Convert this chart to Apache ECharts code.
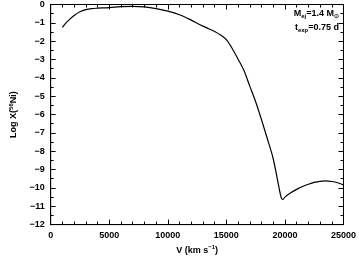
<!DOCTYPE html>
<html><head><meta charset="utf-8">
<script src="https://cdn.jsdelivr.net/npm/echarts@6/dist/echarts.min.js"></script>
<style>html,body{margin:0;padding:0;background:#fff}#c{width:359px;height:260px}</style>
</head><body><div id="c"></div>
<script>
const velocity = [1000,1200,1500,2000,2500,3000,3500,4000,5000,6000,7000,8000,9000,10000,11000,12000,12500,13000,13500,14000,14500,15000,15500,16000,16500,17000,17500,18000,18500,19000,19500,19700,19820,20000,20500,21000,21500,22000,22500,23000,23500,24000,24500,25000];
const logX = [-1.25,-1.08,-0.88,-0.6,-0.4,-0.28,-0.22,-0.2,-0.17,-0.12,-0.1,-0.13,-0.22,-0.36,-0.56,-0.85,-1.02,-1.18,-1.32,-1.47,-1.66,-1.92,-2.4,-2.98,-3.6,-4.45,-5.3,-6.28,-7.32,-8.41,-10.0,-10.56,-10.63,-10.5,-10.27,-10.08,-9.92,-9.8,-9.7,-9.64,-9.62,-9.65,-9.72,-9.84];
const xTicks = [0,5000,10000,15000,20000,25000];
const yTicks = [0,-1,-2,-3,-4,-5,-6,-7,-8,-9,-10,-11,-12];

const font = 'Liberation Sans, Arial, sans-serif';
const chart = echarts.init(document.getElementById('c'), null, {renderer:'canvas'});
const fmtY = v => String(v).replace('-', '\u2212');
const fmtX = v => String(v);
function ax(extra, split){
  return Object.assign({
    axisLine:{show:true,onZero:false,lineStyle:{color:'#000',width:1}},
    axisTick:{show:true,inside:true,length:5,lineStyle:{color:'#000',width:1}},
    minorTick:{show:true,splitNumber:split,length:3,lineStyle:{color:'#000',width:1}},
    splitLine:{show:false}
  }, extra);
}
const lbl = {color:'#000',fontFamily:font,fontSize:9,fontWeight:'bold',margin:6};
chart.setOption({
  animation:false,
  grid:{left:38,right:14,top:4,bottom:30,show:true,borderColor:'#000',borderWidth:1},
  xAxis:[
    ax({type:'value',min:xTicks[0],max:xTicks[xTicks.length-1],interval:5000,
      axisLabel:Object.assign({},lbl,{formatter:fmtX}),
      name:'V (km s{sup|\u22121})',nameLocation:'middle',nameGap:16,
      nameTextStyle:{color:'#000',fontFamily:font,fontSize:9,fontWeight:'bold',rich:{sup:{fontSize:6,fontWeight:'bold',fontFamily:font,color:'#000',padding:[0,0,6,0]}}}},5),
    ax({type:'value',position:'top',min:0,max:25000,interval:5000,axisLabel:{show:false}},5)
  ],
  yAxis:[
    ax({type:'value',min:yTicks[yTicks.length-1],max:yTicks[0],interval:1,
      axisLabel:Object.assign({},lbl,{formatter:fmtY}),
      name:'Log X({sup|56}Ni)',nameLocation:'middle',nameGap:24,
      nameTextStyle:{color:'#000',fontFamily:font,fontSize:9,fontWeight:'bold',rich:{sup:{fontSize:6,fontWeight:'bold',fontFamily:font,color:'#000',padding:[0,0,6,0]}}}},2),
    ax({type:'value',position:'right',min:-12,max:0,interval:1,axisLabel:{show:false}},2)
  ],
  graphic:[
    {type:'text',right:20,top:9,style:{text:'M{sub|ej}=1.4 M{sub|\u2299}',fill:'#000',font:'bold 9px '+font,
      rich:{sub:{fontSize:6,fontWeight:'bold',fontFamily:font,fill:'#000',padding:[5,0,0,0]}}}},
    {type:'text',right:20,top:23,style:{text:'t{sub|exp}=0.75 d',fill:'#000',font:'bold 9px '+font,
      rich:{sub:{fontSize:6,fontWeight:'bold',fontFamily:font,fill:'#000',padding:[5,0,0,0]}}}}
  ],
  series:[{type:'line',xAxisIndex:0,yAxisIndex:0,data:velocity.map((v,i)=>[v,logX[i]]),
    showSymbol:false,smooth:0.3,lineStyle:{color:'#000',width:1.2}}]
});
</script></body></html>
